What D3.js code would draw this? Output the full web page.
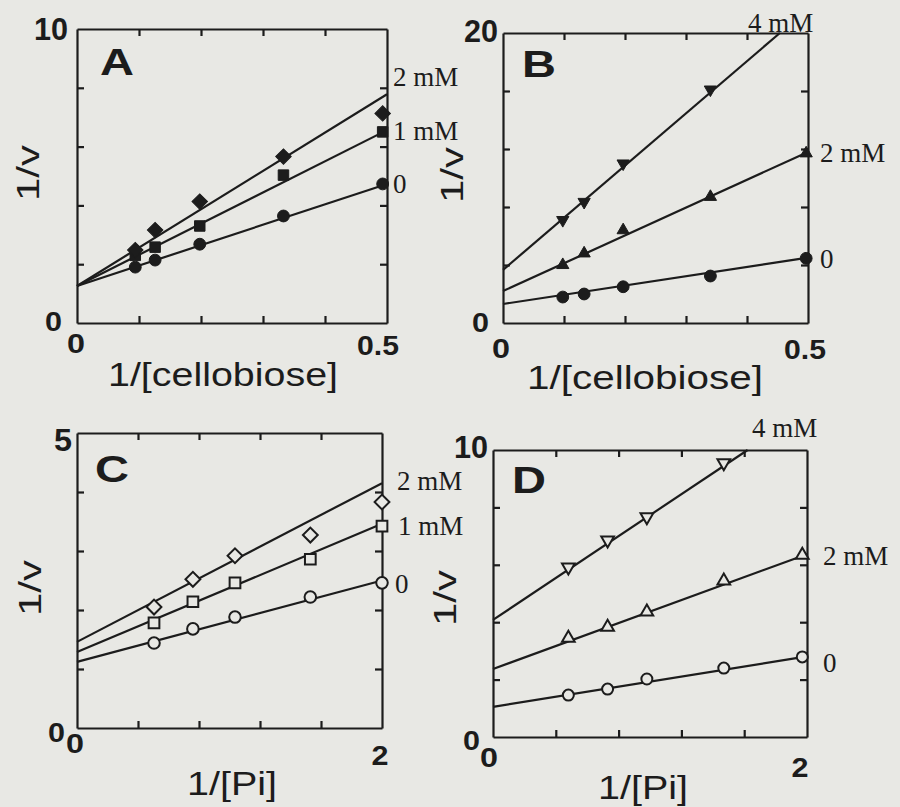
<!DOCTYPE html>
<html><head><meta charset="utf-8">
<script src="https://cdn.jsdelivr.net/npm/d3@7"></script>
<style>body{margin:0;background:#e8e8e4;} svg{display:block}</style>
</head><body><svg id="c" width="900" height="807"></svg>
<script>
// ---------- DATA ----------
// Panel A : 1/v vs 1/[cellobiose]
const xA = [0.094, 0.126, 0.198, 0.333, 0.493];
const yA_0 = [1.9, 2.14, 2.68, 3.64, 4.73];
const yA_1 = [2.3, 2.58, 3.3, 5.03, 6.5];
const yA_2 = [2.48, 3.16, 4.13, 5.66, 7.13];
const fitA_intercept = [1.26, 1.26, 1.26];
const fitA_slope = [6.94, 10.6, 13.04];
const seriesA = ["0", "1 mM", "2 mM"];

// Panel B : 1/v vs 1/[cellobiose]
const xB = [0.098, 0.133, 0.197, 0.34, 0.497];
const yB_0 = [1.79, 2.0, 2.5, 3.24, 4.46];
const yB_2 = [4.0, 4.8, 6.4, 8.7, 11.7];
const yB_4 = [7.1, 8.35, 11.0, 16.1];
const fitB_intercept = [1.31, 2.2, 3.66];
const fitB_slope = [6.4, 19.2, 36.0];
const seriesB = ["0", "2 mM", "4 mM"];

// Panel C : 1/v vs 1/[Pi]
const xC = [0.505, 0.76, 1.036, 1.53, 2.0];
const yC_0 = [1.44, 1.68, 1.88, 2.22, 2.46];
const yC_1 = [1.78, 2.14, 2.46, 2.86, 3.42];
const yC_2 = [2.05, 2.52, 2.92, 3.27, 3.83];
const fitC_intercept = [1.12, 1.29, 1.46];
const fitC_slope = [0.69, 1.085, 1.345];
const seriesC = ["0", "1 mM", "2 mM"];

// Panel D : 1/v vs 1/[Pi]
const xD = [0.48, 0.73, 0.98, 1.47, 1.97];
const yD_0 = [1.46, 1.67, 2.02, 2.4, 2.79];
const yD_2 = [3.45, 3.83, 4.36, 5.44, 6.34];
const yD_4 = [5.92, 6.86, 7.67, 9.55];
const fitD_intercept = [1.05, 2.37, 4.08];
const fitD_slope = [0.88, 2.0, 3.65];
const seriesD = ["0", "2 mM", "4 mM"];

// axis ranges / ticks
const xMaxCell = 0.5, xMaxPi = 2;
const yMaxA = 10, yMaxB = 20, yMaxC = 5, yMaxD = 10;
const xTicksCell = [0.1, 0.2, 0.3, 0.4];
const xTicksPi = [0.4, 0.8, 1.2, 1.6];
const yTicksA = [2, 4, 6, 8];
const yTicksB = [4, 8, 12, 16];
const yTicksC = [1, 2, 3, 4];
const yTicksD = [2, 4, 6, 8];
const xTitleCell = "1/[cellobiose]";
const xTitlePi = "1/[Pi]";
const yTitle = "1/v";
const xMaxLabelCell = "0.5", xMaxLabelPi = "2";

// ---------- LAYOUT ----------
const INK = "#1c1c1c", BG = "#e8e8e4";
const panels = [
  {letter:"A", L:77, R:387, T:29, B:323, xmax:xMaxCell, ymax:yMaxA, xt:xTicksCell, yt:yTicksA,
   xs:[xA, xA, xA], ys:[yA_0, yA_1, yA_2], b:fitA_intercept, m:fitA_slope, names:seriesA,
   sym:["circle","square","diamond"], filled:true, sz:[110, 110, 120],
   namePos:[[393,193],[393,140],[393,86]], xTitle:xTitleCell, xTitleW:230, xTitleC:[223,386],
   yTitleC:[28,173], xMaxLab:xMaxLabelCell, yMaxLab:"10", letterPos:[100,75],
   ymaxPos:[68,29], y0Pos:[62,321], x0Pos:[76,343], xmaxPos:[378,346]},
  {letter:"B", L:503, R:808, T:33, B:323, xmax:xMaxCell, ymax:yMaxB, xt:xTicksCell, yt:yTicksB,
   xs:[xB, xB, xB], ys:[yB_0, yB_2, yB_4], b:fitB_intercept, m:fitB_slope, names:seriesB,
   sym:["circle","triup","tridown"], filled:true, sz:[110, 65, 65],
   namePos:[[820,268],[820,162],[748,32]], xTitle:xTitleCell, xTitleW:236, xTitleC:[645,389],
   yTitleC:[452,175], xMaxLab:xMaxLabelCell, yMaxLab:"20", letterPos:[522,77],
   ymaxPos:[498,31], y0Pos:[489,322], x0Pos:[501,348], xmaxPos:[805,350]},
  {letter:"C", L:77, R:382, T:433, B:728, xmax:xMaxPi, ymax:yMaxC, xt:xTicksPi, yt:yTicksC,
   xs:[xC, xC, xC], ys:[yC_0, yC_1, yC_2], b:fitC_intercept, m:fitC_slope, names:seriesC,
   sym:["circle","square","diamond"], filled:false, sz:[105, 115, 110],
   namePos:[[395,593],[398,535],[397,490]], xTitle:xTitlePi, xTitleW:90, xTitleC:[232,795],
   yTitleC:[30,588], xMaxLab:xMaxLabelPi, yMaxLab:"5", letterPos:[95,482],
   ymaxPos:[72,440], y0Pos:[65,732], x0Pos:[75,743], xmaxPos:[380,756]},
  {letter:"D", L:493, R:807, T:450, B:737, xmax:xMaxPi, ymax:yMaxD, xt:xTicksPi, yt:yTicksD,
   xs:[xD, xD, xD], ys:[yD_0, yD_2, yD_4], b:fitD_intercept, m:fitD_slope, names:seriesD,
   sym:["circle","triup","tridown"], filled:false, sz:[95, 70, 70],
   namePos:[[823,672],[823,565],[752,437]], xTitle:xTitlePi, xTitleW:90, xTitleC:[643,799],
   yTitleC:[445,598], xMaxLab:xMaxLabelPi, yMaxLab:"10", letterPos:[512,493],
   ymaxPos:[488,447], y0Pos:[480,740], x0Pos:[489,757], xmaxPos:[800,768]}
];

const svg = d3.select("#c");
svg.append("rect").attr("width",900).attr("height",807).attr("fill",BG);

function symPath(type, size){
  if(type==="circle") return d3.symbol(d3.symbolCircle, size)();
  if(type==="square") return d3.symbol(d3.symbolSquare, size)();
  if(type==="diamond") return d3.symbol(d3.symbolSquare, size)();
  return d3.symbol(d3.symbolTriangle, size)();
}
function symRot(type){
  if(type==="diamond") return 45;
  if(type==="tridown") return 180;
  return 0;
}

panels.forEach(p => {
  const g = svg.append("g");
  const x = d3.scaleLinear().domain([0,p.xmax]).range([p.L,p.R]);
  const y = d3.scaleLinear().domain([0,p.ymax]).range([p.B,p.T]);

  const axStyle = sel => { sel.selectAll("path,line").attr("stroke",INK).attr("stroke-width",2.2); sel.selectAll("text").remove(); };
  g.append("g").attr("transform",`translate(0,${p.B})`)
    .call(d3.axisBottom(x).tickValues(p.xt).tickSizeInner(-7).tickSizeOuter(0).tickFormat("")).call(axStyle);
  g.append("g").attr("transform",`translate(0,${p.T})`)
    .call(d3.axisTop(x).tickValues(p.xt).tickSizeInner(-7).tickSizeOuter(0).tickFormat("")).call(axStyle);
  g.append("g").attr("transform",`translate(${p.L},0)`)
    .call(d3.axisLeft(y).tickValues(p.yt).tickSizeInner(-7).tickSizeOuter(0).tickFormat("")).call(axStyle);
  g.append("g").attr("transform",`translate(${p.R},0)`)
    .call(d3.axisRight(y).tickValues(p.yt).tickSizeInner(-7).tickSizeOuter(0).tickFormat("")).call(axStyle);

  // fitted lines
  const line = d3.line().x(d=>x(d[0])).y(d=>y(d[1]));
  p.b.forEach((b,i)=>{
    const m = p.m[i];
    let xe = p.xmax;
    if (b + m*xe > p.ymax) xe = (p.ymax - b)/m;
    g.append("path").attr("d", line([[0,b],[xe,b+m*xe]]))
      .attr("fill","none").attr("stroke",INK).attr("stroke-width",2.2);
  });

  // markers
  p.ys.forEach((ys,i)=>{
    ys.forEach((v,j)=>{
      g.append("path").attr("d", symPath(p.sym[i], p.sz[i]))
        .attr("transform",`translate(${x(p.xs[i][j])},${y(v)}) rotate(${symRot(p.sym[i])})`)
        .attr("fill", p.filled ? INK : BG)
        .attr("stroke", INK).attr("stroke-width", p.filled ? 1 : 2);
    });
  });

  // series names
  p.names.forEach((n,i)=>{
    g.append("text").attr("x",p.namePos[i][0]).attr("y",p.namePos[i][1])
      .attr("font-family","'Liberation Serif', 'Times New Roman', serif")
      .attr("font-size",27).attr("fill",INK).text(n);
  });

  const sans = "'Liberation Sans', Arial, sans-serif";
  // panel letter
  g.append("text").attr("x",p.letterPos[0]).attr("y",p.letterPos[1])
    .attr("font-family",sans).attr("font-weight","bold").attr("font-size",37)
    .attr("textLength",34).attr("lengthAdjust","spacingAndGlyphs").attr("fill",INK).text(p.letter);

  // tick labels
  const tl = (txt, pos, anchor, size, w) => {
    const t = g.append("text").attr("x",pos[0]).attr("y",pos[1]).attr("text-anchor",anchor)
      .attr("dominant-baseline","central").attr("font-family",sans).attr("font-weight","bold")
      .attr("font-size",size).attr("fill",INK).text(txt);
    if (w) t.attr("textLength",w).attr("lengthAdjust","spacingAndGlyphs");
  };
  tl(p.yMaxLab, p.ymaxPos, "end", 31, p.yMaxLab.length>1 ? 34 : 18);
  tl("0", p.y0Pos, "end", 28, 17);
  tl("0", p.x0Pos, "middle", 28, 18);
  tl(p.xMaxLab, p.xmaxPos, "middle", 27, p.xMaxLab.length>1 ? 42 : 17);

  // axis titles
  g.append("text").attr("x",p.xTitleC[0]).attr("y",p.xTitleC[1]).attr("text-anchor","middle")
    .attr("font-family",sans).attr("font-size",33).attr("fill",INK)
    .attr("textLength",p.xTitleW).attr("lengthAdjust","spacingAndGlyphs").text(p.xTitle);
  g.append("text").attr("transform",`translate(${p.yTitleC[0]},${p.yTitleC[1]}) rotate(-90)`)
    .attr("text-anchor","middle").attr("dominant-baseline","central")
    .attr("font-family",sans).attr("font-size",31).attr("fill",INK)
    .attr("textLength",56).attr("lengthAdjust","spacingAndGlyphs").text(yTitle);
});
</script></body></html>
